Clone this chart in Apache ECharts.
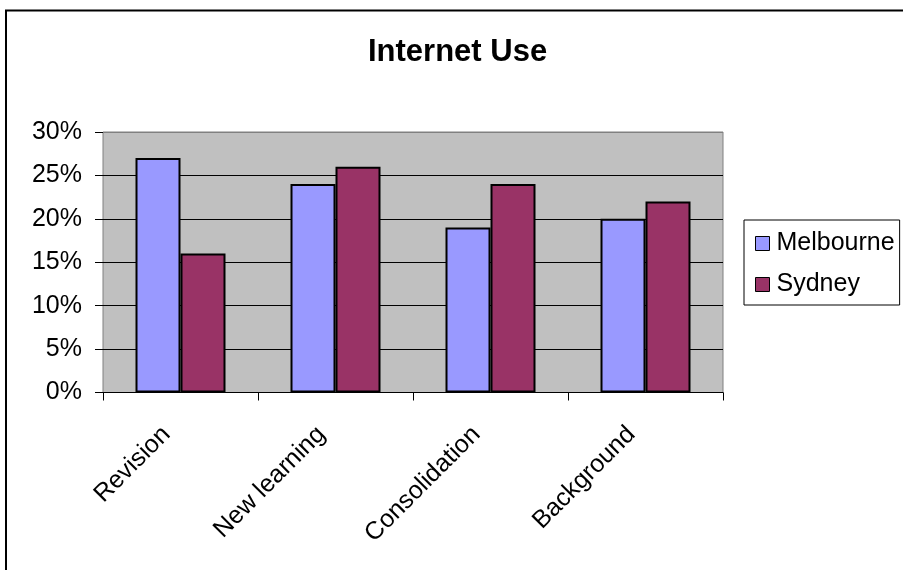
<!DOCTYPE html>
<html>
<head>
<meta charset="utf-8">
<script src="https://cdn.jsdelivr.net/npm/echarts@6/dist/echarts.min.js"></script>
<style>
html,body{margin:0;padding:0;background:#fff;}
#c{width:903px;height:570px;}
</style>
</head>
<body>
<div id="c"></div>
<script>
const categories = ['Revision', 'New learning', 'Consolidation', 'Background'];
const melbourne = [27, 24, 19, 20];
const sydney = [16, 26, 24, 22];
const yTicks = [0, 5, 10, 15, 20, 25, 30];

const FONT = 'Liberation Sans, Arial, sans-serif';
const chart = echarts.init(document.getElementById('c'), null, {renderer: 'canvas'});
chart.setOption({
  animation: false,
  backgroundColor: '#fff',
  title: {
    text: 'Internet Use',
    left: 363,
    top: 32,
    textStyle: {fontFamily: FONT, fontSize: 31, fontWeight: 'bold', color: '#000'}
  },
  graphic: [{
    type: 'rect',
    shape: {x: 6, y: 10.5, width: 1200, height: 1200},
    style: {fill: 'none', stroke: '#000', lineWidth: 2},
    silent: true,
    z: 100
  }],
  legend: {
    orient: 'vertical',
    left: 744,
    top: 220,
    itemWidth: 14,
    itemHeight: 14,
    itemGap: 16,
    padding: [11, 5, 8, 11],
    borderColor: '#000',
    borderWidth: 1,
    backgroundColor: '#fff',
    icon: 'rect',
    itemStyle: {borderColor: '#000', borderWidth: 1},
    textStyle: {fontFamily: FONT, fontSize: 25, color: '#000', padding: [0, 0, 0, 2]},
    data: ['Melbourne', 'Sydney']
  },
  grid: {
    left: 103, right: 180, top: 132, bottom: 177.5,
    show: true,
    backgroundColor: '#C0C0C0',
    borderColor: '#808080',
    borderWidth: 1,
    containLabel: false
  },
  xAxis: {
    type: 'category',
    data: categories,
    axisLine: {show: true, lineStyle: {color: '#000', width: 1}},
    axisTick: {show: true, length: 8, lineStyle: {color: '#000'}},
    axisLabel: {rotate: 45, margin: 24, padding: [0, 20, 0, 0], fontFamily: FONT, fontSize: 25, color: '#000'}
  },
  yAxis: {
    type: 'value',
    min: 0, max: 30, interval: 5,
    axisLine: {show: false},
    axisTick: {show: true, length: 8, lineStyle: {color: '#000'}},
    axisLabel: {formatter: '{value}%', margin: 21, fontFamily: FONT, fontSize: 25, color: '#000'},
    splitLine: {show: true, lineStyle: {color: ['#000','#000','#000','#000','#000','#000','#808080'], width: 1}}
  },
  series: [{
    name: 'Melbourne',
    type: 'bar',
    data: melbourne,
    barWidth: 45,
    barGap: '0%',
    itemStyle: {color: '#9999FF', borderColor: '#000', borderWidth: 2}
  }, {
    name: 'Sydney',
    type: 'bar',
    data: sydney,
    barWidth: 45,
    barGap: '0%',
    itemStyle: {color: '#993366', borderColor: '#000', borderWidth: 2}
  }]
});
</script>
</body>
</html>
